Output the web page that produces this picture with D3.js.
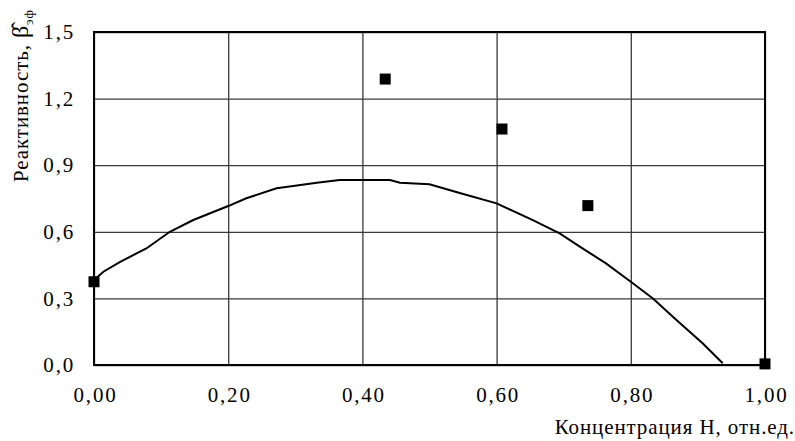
<!DOCTYPE html>
<html>
<head>
<meta charset="utf-8">
<script src="https://cdn.jsdelivr.net/npm/d3@7"></script>
<style>
  body { margin: 0; background: #fff; }
  svg text { font-family: "Liberation Serif", "Times New Roman", serif; }
</style>
</head>
<body>
<svg id="chart"></svg>
<script>
// данные
const curveX = [0.000, 0.014, 0.039, 0.078, 0.113, 0.148, 0.200, 0.227, 0.272, 0.297, 0.332, 0.366,
  0.441, 0.456, 0.500, 0.545, 0.600, 0.654, 0.694, 0.724, 0.763, 0.800, 0.833, 0.868, 0.907, 0.937];
const curveY = [0.383, 0.420, 0.465, 0.525, 0.600, 0.653, 0.716, 0.751, 0.796, 0.806, 0.821, 0.833,
  0.833, 0.821, 0.814, 0.775, 0.728, 0.653, 0.593, 0.533, 0.458, 0.375, 0.300, 0.203, 0.098, 0.008];
const pointX = [0.000, 0.434, 0.608, 0.736, 1.000];
const pointY = [0.375, 1.288, 1.063, 0.718, 0.005];
const xTicks = [0, 0.2, 0.4, 0.6, 0.8, 1.0];
const xTickLabels = ["0,00", "0,20", "0,40", "0,60", "0,80", "1,00"];
const yTicks = [0, 0.3, 0.6, 0.9, 1.2, 1.5];
const yTickLabels = ["0,0", "0,3", "0,6", "0,9", "1,2", "1,5"];

const width = 795, height = 441;
const margin = { top: 32, right: 30, bottom: 76, left: 94 };
const innerW = width - margin.left - margin.right;
const innerH = height - margin.top - margin.bottom;

const svg = d3.select("#chart")
  .attr("width", width)
  .attr("height", height);

const g = svg.append("g")
  .attr("transform", `translate(${margin.left},${margin.top})`);

const x = d3.scaleLinear().domain([0, 1]).range([0, innerW]);
const y = d3.scaleLinear().domain([0, 1.5]).range([innerH, 0]);

// оси с сеткой
const xAxis = g.append("g")
  .attr("transform", `translate(0,${innerH})`)
  .call(d3.axisBottom(x)
    .tickValues(xTicks)
    .tickFormat((d, i) => xTickLabels[i])
    .tickSize(-innerH)
    .tickPadding(22));

const yAxis = g.append("g")
  .call(d3.axisLeft(y)
    .tickValues(yTicks)
    .tickFormat((d, i) => yTickLabels[i])
    .tickSize(-innerW)
    .tickPadding(19));

[xAxis, yAxis].forEach(a => {
  a.select(".domain").remove();
  a.selectAll(".tick line").attr("stroke", "#3a3a3a").attr("stroke-width", 1.3);
  a.selectAll(".tick text")
    .attr("fill", "#000")
    .attr("font-size", 21)
    .attr("letter-spacing", 1.8)
    .style("font-family", "'Liberation Serif', 'Times New Roman', serif");
});
xAxis.selectAll(".tick text").attr("dx", 1);

// рамка
g.append("rect")
  .attr("width", innerW)
  .attr("height", innerH)
  .attr("fill", "none")
  .attr("stroke", "#000")
  .attr("stroke-width", 2);

// кривая
const line = d3.line()
  .x(d => x(d[0]))
  .y(d => y(d[1]));

g.append("path")
  .datum(curveX.map((v, i) => [v, curveY[i]]))
  .attr("d", line)
  .attr("fill", "none")
  .attr("stroke", "#000")
  .attr("stroke-width", 2);

// точки
const s = 11;
g.selectAll("rect.pt")
  .data(pointX.map((v, i) => [v, pointY[i]]))
  .join("rect")
    .attr("class", "pt")
    .attr("x", d => x(d[0]) - s / 2)
    .attr("y", d => y(d[1]) - s / 2)
    .attr("width", s)
    .attr("height", s)
    .attr("fill", "#000");

// подписи осей
svg.append("text")
  .attr("x", 795)
  .attr("y", 434)
  .attr("text-anchor", "end")
  .attr("font-size", 21)
  .attr("letter-spacing", 0.9)
  .attr("fill", "#000")
  .text("Концентрация Н, отн.ед.");

const yt = svg.append("text")
  .attr("transform", "translate(28,182) rotate(-90)")
  .attr("text-anchor", "start")
  .attr("font-size", 21)
  .attr("letter-spacing", 0.9)
  .attr("fill", "#000");
yt.append("tspan").text("Реактивность, ");
yt.append("tspan").attr("font-size", 24).text("β̂");
yt.append("tspan")
  .attr("font-size", 13)
  .attr("dy", 5)
  .text("эф");
</script>
</body>
</html>
